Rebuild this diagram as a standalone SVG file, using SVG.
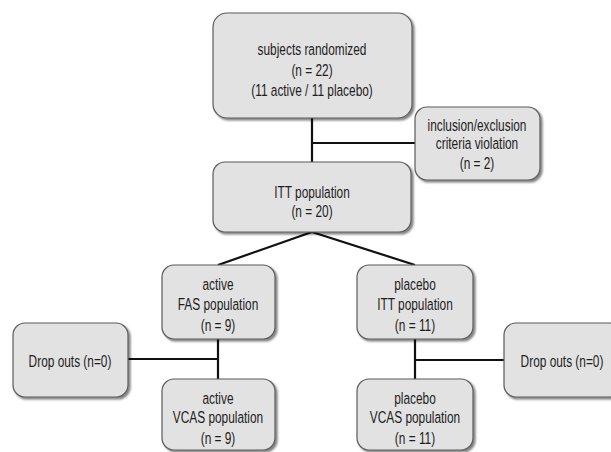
<svg xmlns="http://www.w3.org/2000/svg" width="611" height="452" viewBox="0 0 611 452">
<defs>
<filter id="sh" x="-10%" y="-10%" width="130%" height="130%">
<feGaussianBlur in="SourceAlpha" stdDeviation="1.2"/>
<feOffset dx="2" dy="2" result="b"/>
<feComponentTransfer><feFuncA type="linear" slope="0.5"/></feComponentTransfer>
<feMerge><feMergeNode/><feMergeNode in="SourceGraphic"/></feMerge>
</filter>
</defs>
<style>
.box{fill:#e2e2e2;stroke:#5a5a5a;stroke-width:1.2;filter:url(#sh)}
.t{font-family:"Liberation Sans",Arial,sans-serif;font-size:16.5px;fill:#1e1e1e;text-anchor:middle}
.c{stroke:#111;stroke-width:2.2;fill:none}
</style>
<rect width="611" height="452" fill="#fff"/>
<g id="connectors">
<line class="c" x1="312" y1="118" x2="312" y2="162"/>
<line class="c" x1="312" y1="143" x2="415" y2="143"/>
<line class="c" x1="312" y1="232" x2="218" y2="265"/>
<line class="c" x1="312" y1="232" x2="415" y2="265"/>
<line class="c" x1="218" y1="339" x2="218" y2="379"/>
<line class="c" x1="128" y1="359" x2="218" y2="359"/>
<line class="c" x1="415" y1="339" x2="415" y2="379"/>
<line class="c" x1="415" y1="360" x2="504" y2="360"/>
</g>
<g id="randomized">
<rect class="box" x="213" y="13" width="199" height="105" rx="14"/>
<text class="t" transform="translate(312 55) scale(0.72 1)">subjects randomized</text>
<text class="t" transform="translate(312 76) scale(0.72 1)">(n = 22)</text>
<text class="t" transform="translate(312 96) scale(0.72 1)">(11 active / 11 placebo)</text>
</g>
<g id="violation">
<rect class="box" x="415" y="107" width="125" height="73" rx="12"/>
<text class="t" transform="translate(477 131) scale(0.72 1)">inclusion/exclusion</text>
<text class="t" transform="translate(477 149) scale(0.72 1)">criteria violation</text>
<text class="t" transform="translate(477 169) scale(0.72 1)">(n = 2)</text>
</g>
<g id="itt">
<rect class="box" x="213" y="162" width="198" height="70" rx="12"/>
<text class="t" transform="translate(312 198) scale(0.72 1)">ITT population</text>
<text class="t" transform="translate(312 217) scale(0.72 1)">(n = 20)</text>
</g>
<g id="active-fas">
<rect class="box" x="162" y="265" width="113" height="74" rx="12"/>
<text class="t" transform="translate(218 290) scale(0.72 1)">active</text>
<text class="t" transform="translate(218 310) scale(0.72 1)">FAS population</text>
<text class="t" transform="translate(218 331) scale(0.72 1)">(n = 9)</text>
</g>
<g id="placebo-itt">
<rect class="box" x="357" y="265" width="116" height="74" rx="12"/>
<text class="t" transform="translate(415 290) scale(0.72 1)">placebo</text>
<text class="t" transform="translate(415 310) scale(0.72 1)">ITT population</text>
<text class="t" transform="translate(415 331) scale(0.72 1)">(n = 11)</text>
</g>
<g id="dropouts-left">
<rect class="box" x="13" y="323" width="115" height="74" rx="12"/>
<text class="t" transform="translate(70 367) scale(0.72 1)">Drop outs (n=0)</text>
</g>
<g id="dropouts-right">
<rect class="box" x="504" y="323" width="118" height="74" rx="12"/>
<text class="t" transform="translate(562 367) scale(0.72 1)">Drop outs (n=0)</text>
</g>
<g id="active-vcas">
<rect class="box" x="162" y="379" width="113" height="71" rx="12"/>
<text class="t" transform="translate(218 404) scale(0.72 1)">active</text>
<text class="t" transform="translate(218 423) scale(0.72 1)">VCAS population</text>
<text class="t" transform="translate(218 444) scale(0.72 1)">(n = 9)</text>
</g>
<g id="placebo-vcas">
<rect class="box" x="357" y="379" width="116" height="71" rx="12"/>
<text class="t" transform="translate(415 404) scale(0.72 1)">placebo</text>
<text class="t" transform="translate(415 423) scale(0.72 1)">VCAS population</text>
<text class="t" transform="translate(415 444) scale(0.72 1)">(n = 11)</text>
</g>
</svg>
